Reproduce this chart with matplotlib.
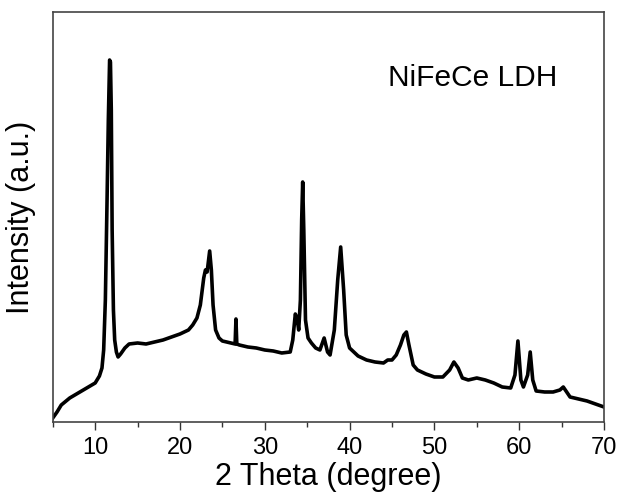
import matplotlib
matplotlib.use("Agg")
import matplotlib.pyplot as plt
from matplotlib.ticker import MultipleLocator

plt.rcParams['font.family'] = ['Liberation Sans', 'DejaVu Sans']

two_theta = [5.0, 5.5, 6.0, 7.0, 8.0, 9.0, 10.0, 10.5, 10.8, 11.0, 11.2, 11.4, 11.55, 11.7, 11.8,
             11.9, 12.0, 12.15, 12.3, 12.5, 12.7, 13.0, 13.5, 14.0, 15.0, 16.0, 17.0, 18.0, 19.0,
             20.0, 21.0, 21.5, 22.0, 22.4, 22.8, 23.0, 23.2, 23.5, 23.7, 23.9, 24.2, 24.6, 25.0,
             26.0, 26.5, 26.6, 26.7, 27.0, 28.0, 29.0, 30.0, 31.0, 32.0, 33.0, 33.3, 33.6, 33.8,
             34.0, 34.2, 34.35, 34.47, 34.6, 34.8, 35.1, 35.5, 36.0, 36.5, 37.0, 37.4, 37.7, 38.2,
             38.6, 38.95, 39.3, 39.6, 40.0, 41.0, 42.0, 43.0, 44.0, 44.5, 45.0, 45.5, 46.0, 46.4,
             46.7, 47.0, 47.5, 48.0, 49.0, 50.0, 51.0, 51.8, 52.3, 52.8, 53.3, 54.0, 55.0, 56.0,
             57.0, 58.0, 59.0, 59.5, 59.85, 60.2, 60.5, 61.0, 61.3, 61.6, 62.0, 63.0, 64.0, 64.8,
             65.2, 65.6, 66.0, 67.0, 68.0, 69.0, 70.0]
intensity = [4, 10, 17, 24, 29, 34, 39, 46, 54, 72, 122, 222, 302, 362, 360,
             312, 192, 112, 82, 70, 65, 68, 74, 78, 79, 78, 80, 82, 85,
             88, 92, 97, 104, 117, 144, 152, 150, 171, 152, 117, 92, 84, 81,
             79, 78, 103, 78, 77, 75, 74, 72, 71, 69, 70, 82, 108, 104,
             92, 122, 202, 240, 192, 102, 84, 79, 74, 72, 84, 70, 67, 92,
             142, 175, 132, 87, 74, 66, 62, 60, 59, 62, 62, 67, 77, 87,
             90, 77, 57, 52, 48, 45, 45, 52, 60, 54, 44, 42, 44, 42,
             39, 35, 34, 47, 81, 42, 35, 47, 70, 42, 31, 30, 30, 32,
             35, 30, 25, 23, 21, 18, 15]
x_ticks = [10, 20, 30, 40, 50, 60, 70]

fig = plt.figure(figsize=(6.21, 4.92), dpi=100)
ax = fig.add_axes([0.085, 0.1423, 0.8876, 0.8333])
ax.plot(two_theta, intensity, color='black', lw=2.6, solid_joinstyle='round')
ax.set_xlim(5, 70)
ax.set_ylim(0, 410)
ax.set_xticks(x_ticks)
ax.xaxis.set_minor_locator(MultipleLocator(5))
ax.set_yticks([])
ax.tick_params(axis='x', which='major', direction='out', length=6, width=1.0,
               color='#333333', labelsize=17, pad=5)
ax.tick_params(axis='x', which='minor', direction='out', length=3.5, width=1.0, color='#333333')
for s in ax.spines.values():
    s.set_color('#444444')
    s.set_linewidth(1.2)
ax.set_xlabel('2 Theta (degree)', fontsize=22, labelpad=2)
ax.set_ylabel('Intensity (a.u.)', fontsize=22, labelpad=12)
ax.text(0.762, 0.8195, 'NiFeCe LDH', transform=ax.transAxes, fontsize=21.5,
        ha='center', va='baseline')
fig.savefig('out.png', dpi=100)
